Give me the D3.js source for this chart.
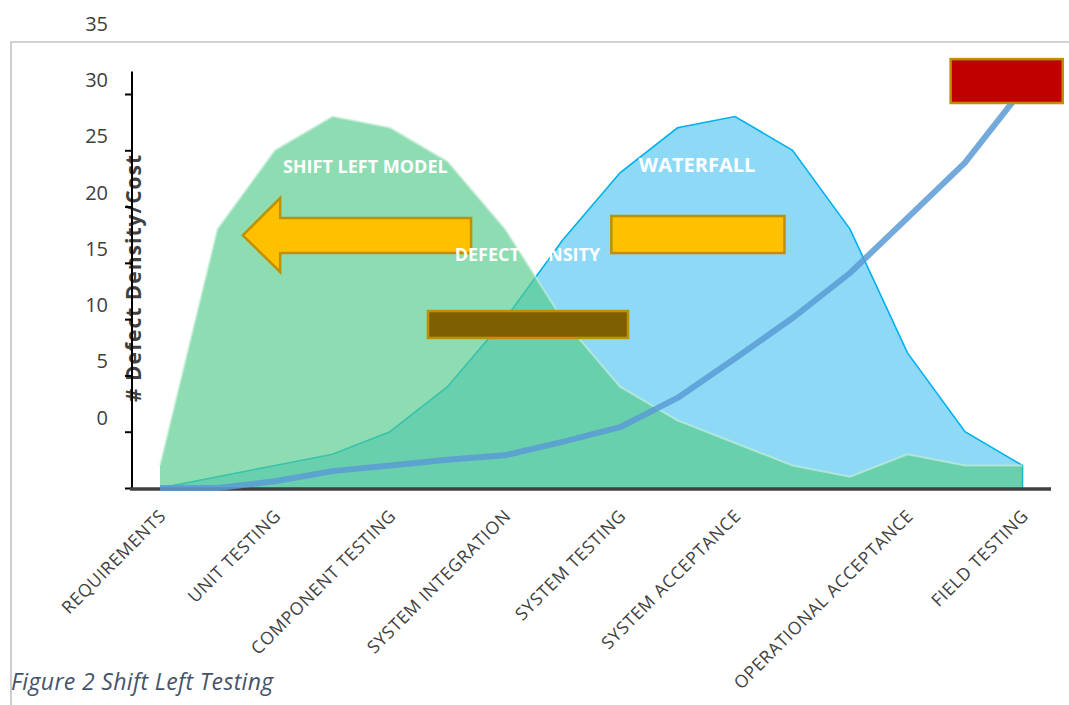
<!DOCTYPE html>
<html>
<head>
<meta charset="utf-8">
<script src="https://cdn.jsdelivr.net/npm/d3@7"></script>
<style>
  body { margin: 0; background: #fff; }
  text { font-family: "Open Sans", "Noto Sans", sans-serif; }
</style>
</head>
<body>
<script>
// stages on the x axis (blank ones carry no label)
var categories = ["REQUIREMENTS", "", "UNIT TESTING", "", "COMPONENT TESTING", "",
  "SYSTEM INTEGRATION", "", "SYSTEM TESTING", "", "SYSTEM ACCEPTANCE", "", "",
  "OPERATIONAL ACCEPTANCE", "", "FIELD TESTING"];

// series values
var shiftLeft = [-3, 18, 25, 28, 27, 24, 18, 10, 4, 1, -1, -3, -4, -2, -3, -3];
var waterfall = [-5, -4, -3, -2, 0, 4, 10, 17, 23, 27, 28, 25, 18, 7, 0, -3];
var cost = [-5, -5, -4.4, -3.5, -3, -2.5, -2.1, -0.9, 0.4, 3, 6.5, 10.1, 14.1, 19, 23.9, 30.4];

var tickMarks = [-5, 0, 5, 10, 15, 20, 25, 30];
var tickLabels = [0, 5, 10, 15, 20, 25, 30, 35];

var svgWidth = 1069;
var svgHeight = 705;

var svg = d3.select("body")
  .append("svg")
  .attr("width", svgWidth)
  .attr("height", svgHeight);

var xScale = d3.scaleLinear()
  .domain([0, categories.length - 1])
  .range([160, 1022.5]);

var yScale = d3.scaleLinear()
  .domain([-5, 30])
  .range([488, 94]);

// frame
svg.append("path")
  .attr("d", `M11,${svgHeight} L11,42 L${svgWidth},42`)
  .attr("fill", "none")
  .attr("stroke", "#c3c3c3")
  .attr("stroke-width", 1.6);

// y tick labels (sit a little above their tick marks, like the original)
svg.selectAll(".ylab")
  .data(tickLabels)
  .enter()
  .append("text")
  .attr("class", "ylab")
  .attr("x", 108)
  .attr("y", d => yScale(d) - 14)
  .attr("dy", "0.35em")
  .attr("text-anchor", "end")
  .attr("font-size", "20px")
  .attr("fill", "#404040")
  .text(d => d);

// y axis title
svg.append("text")
  .attr("transform", `translate(141, 278) rotate(-90)`)
  .attr("text-anchor", "middle")
  .attr("font-size", "21px")
  .attr("letter-spacing", "1px")
  .attr("font-weight", "bold")
  .attr("fill", "#404040")
  .text("# Defect Density/Cost");

// y axis line + ticks
var leftAxis = d3.axisLeft(yScale)
  .tickValues(tickMarks)
  .tickSize(7)
  .tickFormat("");
var yAxis = svg.append("g")
  .attr("transform", "translate(132,0)")
  .call(leftAxis);
yAxis.select(".domain").remove();
yAxis.selectAll(".tick line").attr("stroke", "#000").attr("stroke-width", 2);
yAxis.append("line")
  .attr("x1", 0).attr("x2", 0)
  .attr("y1", yScale(-5)).attr("y2", yScale(32))
  .attr("stroke", "#000")
  .attr("stroke-width", 2);

// areas
var area = d3.area()
  .x((d, i) => xScale(i))
  .y0(yScale(-5))
  .y1(d => yScale(d));

var topLine = d3.line()
  .x((d, i) => xScale(i))
  .y(d => yScale(d));

svg.append("path")
  .datum(waterfall)
  .attr("d", area)
  .attr("fill", "#8ed9f6");

svg.append("path")
  .datum(waterfall)
  .attr("d", d => topLine(d) + `L${xScale(waterfall.length - 1)},${yScale(-5)}`)
  .attr("fill", "none")
  .attr("stroke", "#00b0f0")
  .attr("stroke-width", 1.6);

svg.append("path")
  .datum(shiftLeft)
  .attr("d", area)
  .attr("fill", "rgb(87,203,138)")
  .attr("fill-opacity", 0.67);

svg.append("path")
  .datum(shiftLeft)
  .attr("d", topLine)
  .attr("fill", "none")
  .attr("stroke", "#c4eed8")
  .attr("stroke-opacity", 0.7)
  .attr("stroke-width", 2);

// x baseline
svg.append("line")
  .attr("x1", 130).attr("x2", 1051)
  .attr("y1", yScale(-5) + 1).attr("y2", yScale(-5) + 1)
  .attr("stroke", "#404040")
  .attr("stroke-width", 3.5);

// cost line
svg.append("path")
  .datum(cost)
  .attr("d", topLine)
  .attr("fill", "none")
  .attr("stroke", "#5b9bd5")
  .attr("stroke-opacity", 0.85)
  .attr("stroke-width", 6)
  .attr("stroke-linejoin", "round");

// x labels
svg.selectAll(".xlab")
  .data(categories)
  .enter()
  .append("text")
  .attr("class", "xlab")
  .attr("transform", (d, i) => `translate(${xScale(i) + 7}, 517) rotate(-45)`)
  .attr("text-anchor", "end")
  .attr("font-size", "17.5px")
  .attr("letter-spacing", "0.7px")
  .attr("fill", "#404040")
  .text(d => d);

// annotation shapes, placed in chart units
var arrowPts = [[1.44, 17.45], [2.09, 20.76], [2.09, 18.98], [5.41, 18.98],
  [5.41, 15.87], [2.09, 15.87], [2.09, 14.19]];
svg.append("polygon")
  .attr("points", arrowPts.map(p => [xScale(p[0]), yScale(p[1])].join(",")).join(" "))
  .attr("fill", "#ffc000")
  .attr("stroke", "#bf9000")
  .attr("stroke-width", 2.5);

var boxes = [
  { x0: 7.85, x1: 10.86, y0: 15.87, y1: 19.16, fill: "#ffc000" },
  { x0: 4.66, x1: 8.14, y0: 8.33, y1: 10.72, fill: "#7f6000" },
  { x0: 13.75, x1: 15.7, y0: 29.2, y1: 33.1, fill: "#c00000" }
];
svg.selectAll(".box")
  .data(boxes)
  .enter()
  .append("rect")
  .attr("class", "box")
  .attr("x", d => xScale(d.x0))
  .attr("y", d => yScale(d.y1))
  .attr("width", d => xScale(d.x1) - xScale(d.x0))
  .attr("height", d => yScale(d.y0) - yScale(d.y1))
  .attr("fill", d => d.fill)
  .attr("stroke", "#bf9000")
  .attr("stroke-width", 2.5);

var notes = [
  { text: "SHIFT LEFT MODEL", x: 3.57, y: 23.0, size: 18 },
  { text: "WATERFALL", x: 9.34, y: 23.1, size: 20 },
  { text: "DEFECT DENSITY", x: 6.39, y: 15.2, size: 18 }
];
svg.selectAll(".note")
  .data(notes)
  .enter()
  .append("text")
  .attr("class", "note")
  .attr("x", d => xScale(d.x))
  .attr("y", d => yScale(d.y))
  .attr("text-anchor", "middle")
  .attr("font-size", d => d.size + "px")
  .attr("font-weight", "bold")
  .attr("fill", "#fff")
  .text(d => d.text);

// caption
svg.append("text")
  .attr("x", 11)
  .attr("y", 690)
  .attr("font-size", "23px")
  .attr("letter-spacing", "0.35px")
  .attr("font-style", "italic")
  .attr("fill", "#44546a")
  .text("Figure 2 Shift Left Testing");
</script>
</body>
</html>
